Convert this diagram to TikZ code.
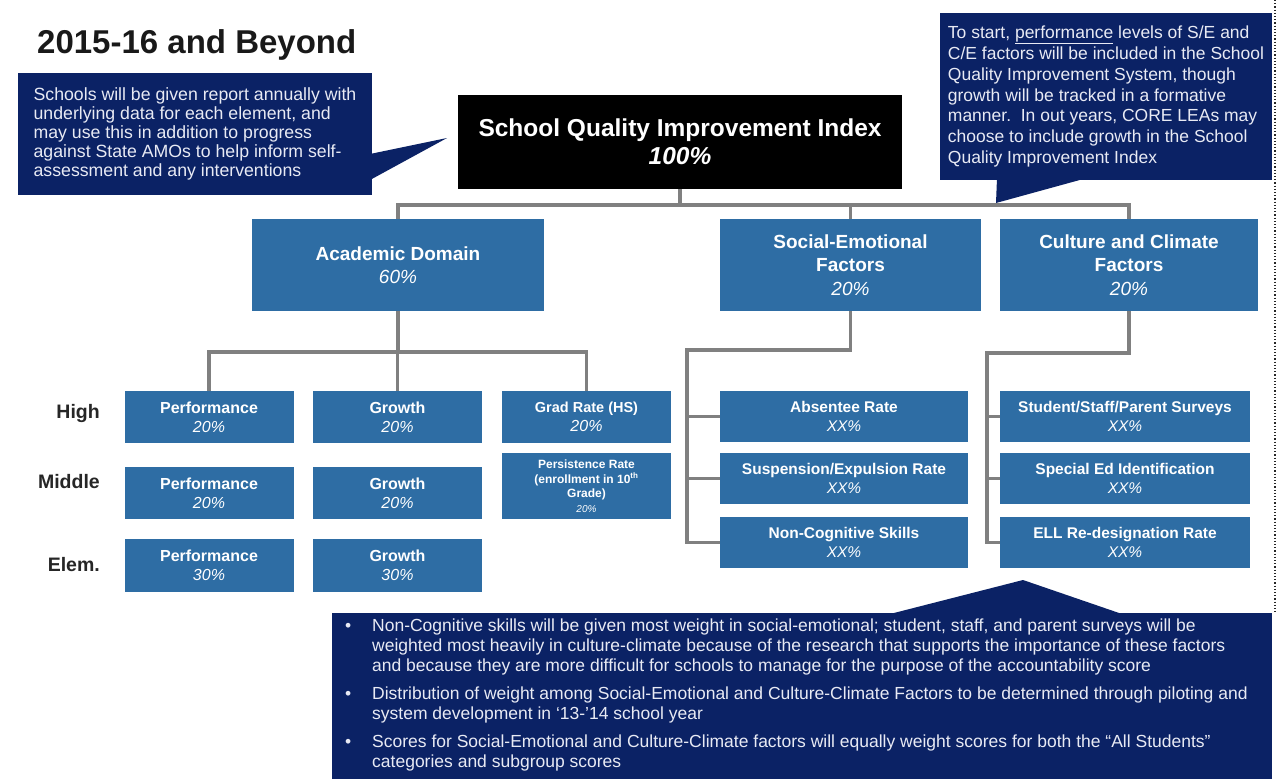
\documentclass[tikz,border=0pt]{standalone}
\usepackage{fontspec}
\setmainfont{Liberation Sans}
\definecolor{navy}{HTML}{0B2265}
\definecolor{boxblue}{HTML}{2E6DA4}
\definecolor{conngray}{HTML}{808080}
\definecolor{calltxt}{HTML}{E8EAF4}
\newcommand{\myfs}[2]{\fontsize{#1}{#2}\selectfont}
\begin{document}
\begin{tikzpicture}[x=1pt,y=-1pt,
  bluebox/.style={fill=boxblue,text=white,inner sep=0pt,align=center},
  bigbox/.style={bluebox,minimum height=92pt,font=\bfseries\myfs{19}{23.5}},
  smallbox/.style={bluebox,minimum width=169pt,minimum height=52pt,font=\bfseries\myfs{16}{19}},
  factbox/.style={bluebox,minimum height=51pt,font=\bfseries\myfs{15.5}{19}},
  conn/.style={draw=conngray,line width=3.5pt},
  callout/.style={fill=navy,inner sep=0pt,text=calltxt,align=left},
  rowlabel/.style={text=black!85,font=\bfseries\myfs{19.5}{22},anchor=east,inner sep=0pt},
]
\useasboundingbox (0,0) rectangle (1280,779);
\fill[white] (0,0) rectangle (1280,779);

% title
\node[anchor=base west,inner sep=0pt,text=black!90,font=\bfseries\myfs{33}{38}] (title) at (37,53) {2015-16 and Beyond};

% main boxes
\node[fill=black,text=white,inner sep=0pt,align=center,minimum width=444pt,minimum height=94pt,font=\bfseries\myfs{24.5}{28}] (top) at (680,142) {School Quality Improvement Index\\\textit{100\%}};
\node[bigbox,minimum width=292pt] (acad) at (398,265) {Academic Domain\\{\mdseries\itshape 60\%}};
\node[bigbox,minimum width=261pt] (se) at (850.5,265) {Social-Emotional\\Factors\\{\mdseries\itshape 20\%}};
\node[bigbox,minimum width=258pt] (cc) at (1129,265) {Culture and Climate\\Factors\\{\mdseries\itshape 20\%}};

% academic sub boxes
\node[smallbox] (perfH) at (209,417) {Performance\\{\mdseries\itshape 20\%}};
\node[smallbox] (growH) at (397.5,417) {Growth\\{\mdseries\itshape 20\%}};
\node[smallbox,font=\bfseries\myfs{14.5}{19}] (grad) at (586.5,417) {Grad Rate (HS)\\{\mdseries\itshape\myfs{16}{19}20\%}};
\node[smallbox] (perfM) at (209,493) {Performance\\{\mdseries\itshape 20\%}};
\node[smallbox] (growM) at (397.5,493) {Growth\\{\mdseries\itshape 20\%}};
\node[smallbox,minimum height=66pt,font=\bfseries\myfs{12}{14.5}] (pers) at (586.5,486) {Persistence Rate\\(enrollment in 10\textsuperscript{th}\\Grade)\\{\mdseries\itshape\myfs{10}{13}20\%}};
\node[smallbox,minimum height=53pt] (perfE) at (209,565.5) {Performance\\{\mdseries\itshape 30\%}};
\node[smallbox,minimum height=53pt] (growE) at (397.5,565.5) {Growth\\{\mdseries\itshape 30\%}};

% row labels
\node[rowlabel] (lblH) at (100,413) {High};
\node[rowlabel] (lblM) at (100,482) {Middle};
\node[rowlabel] (lblE) at (100,565) {Elem.};

% factor sub boxes
\node[factbox,minimum width=248pt] (abs) at (844,416.5) {Absentee Rate\\{\mdseries\itshape XX\%}};
\node[factbox,minimum width=248pt] (susp) at (844,478.5) {Suspension/Expulsion Rate\\{\mdseries\itshape XX\%}};
\node[factbox,minimum width=248pt] (noncog) at (844,542.5) {Non-Cognitive Skills\\{\mdseries\itshape XX\%}};
\node[factbox,minimum width=250pt] (surv) at (1125,416.5) {Student/Staff/Parent Surveys\\{\mdseries\itshape XX\%}};
\node[factbox,minimum width=250pt] (sped) at (1125,478.5) {Special Ed Identification\\{\mdseries\itshape XX\%}};
\node[factbox,minimum width=250pt] (ell) at (1125,542.5) {ELL Re-designation Rate\\{\mdseries\itshape XX\%}};

% connectors
\draw[conn] (top.south) -- (top.south |- 0,205);
\draw[conn] (acad.north) -- (acad.north |- 0,205) -| (cc.north);
\draw[conn] (se.north) -- (se.north |- 0,205);

\draw[conn] (acad.south) -- (acad.south |- 0,352);
\draw[conn] (perfH.north) -- (perfH.north |- 0,352) -- (grad.north |- 0,352) -- (grad.north);
\draw[conn] (growH.north) -- (growH.north |- 0,352);

\coordinate (seBus) at (687,350);
\draw[conn] (se.south) |- (seBus) |- (noncog.west);
\draw[conn] (seBus |- abs.west) -- (abs.west);
\draw[conn] (seBus |- susp.west) -- (susp.west);

\coordinate (ccBus) at (987,353);
\draw[conn] (cc.south) |- (ccBus) |- (ell.west);
\draw[conn] (ccBus |- surv.west) -- (surv.west);
\draw[conn] (ccBus |- sped.west) -- (sped.west);

% dotted right edge
\draw[black!85,dotted,line width=1.2pt] (1275,0) -- (1275,613);

% left callout
\node[callout,minimum width=354pt,minimum height=122pt,font=\myfs{17.7}{19}] (callL) at (195,134)
 {Schools will be given report annually with\\underlying data for each element, and\\may use this in addition to progress\\against State AMOs to help inform self-\\assessment and any interventions};
\coordinate (tipL) at (447,138);
\fill[navy] (370,154) -- (tipL) -- (370,180) -- cycle;

% right callout
\node[callout,minimum width=332pt,minimum height=167pt,font=\myfs{17.5}{20.8}] (callR) at (1106,96.5)
 {To start, \underline{performance} levels of S/E and\\C/E factors will be included in the School\\Quality Improvement System, though\\growth will be tracked in a formative\\manner.\ \ In out years, CORE LEAs may\\choose to include growth in the School\\Quality Improvement Index};
\coordinate (tipR) at (996,203);
\fill[navy] (997,178) -- (tipR) -- (1087,178) -- cycle;

% bottom callout
\fill[navy] (332,613) rectangle (1272,782);
\coordinate (tipB) at (1023,580);
\fill[navy] (890,614) -- (tipB) -- (1122,614) -- cycle;
\node[anchor=north west,inner sep=0pt,text=calltxt,align=left,font=\myfs{17.5}{20}] (callB) at (340,617)
 {\begin{tabular}{@{}p{32pt}@{}l@{}}
 \hspace{5pt}\textbullet & Non-Cognitive skills will be given most weight in social-emotional; student, staff, and parent surveys will be\\
 & weighted most heavily in culture-climate because of the research that supports the importance of these factors\\
 & and because they are more difficult for schools to manage for the purpose of the accountability score\\[8pt]
 \hspace{5pt}\textbullet & Distribution of weight among Social-Emotional and Culture-Climate Factors to be determined through piloting and\\
 & system development in ‘13-’14 school year\\[8pt]
 \hspace{5pt}\textbullet & Scores for Social-Emotional and Culture-Climate factors will equally weight scores for both the “All Students”\\
 & categories and subgroup scores
 \end{tabular}};
\end{tikzpicture}
\end{document}
